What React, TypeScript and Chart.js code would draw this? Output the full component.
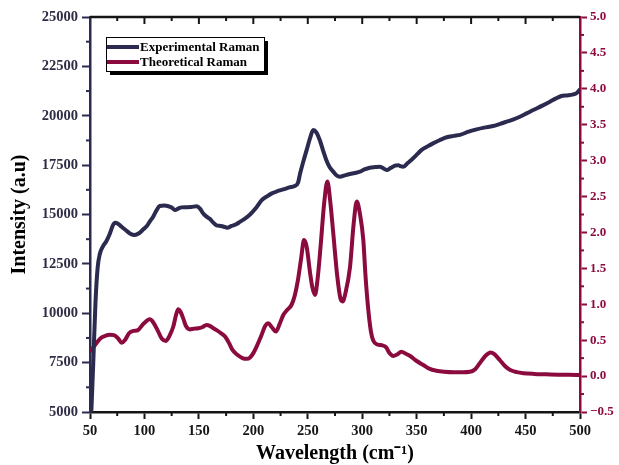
import React, { useEffect, useRef } from "react";
import { Chart, registerables } from "chart.js";
Chart.register(...registerables);

const expWavelength = [51, 53, 55, 57, 59, 62, 65, 68, 71, 73, 76, 79, 83, 87, 91, 95, 99, 102, 105, 108, 111, 114, 118, 122, 125, 128, 131, 134, 138, 143, 148, 151, 154, 157, 160, 163, 166, 170, 173, 176, 180, 184.7, 188, 192, 197, 202, 207.7, 212, 217, 222, 227.5, 233, 238, 241, 243, 246, 249, 252, 255, 258, 261, 264, 267, 270, 273.4, 276, 279.6, 284, 288.8, 293, 298, 302, 307, 312, 316, 319, 322.5, 326, 330, 333, 335, 337.7, 342, 346.8, 351, 354.6, 360, 365, 371, 377.5, 384, 389.8, 397, 405, 412, 420, 426, 432.6, 439, 444.8, 451, 457, 465, 472.4, 478, 483, 488, 493.8, 497, 500];
const expIntensity = [4700, 7500, 10500, 12300, 13000, 13400, 13650, 14000, 14450, 14580, 14520, 14380, 14200, 14030, 13960, 14050, 14250, 14400, 14650, 14890, 15200, 15430, 15450, 15420, 15350, 15230, 15300, 15360, 15370, 15380, 15420, 15300, 15050, 14890, 14780, 14600, 14460, 14420, 14380, 14330, 14420, 14520, 14640, 14780, 15000, 15300, 15730, 15900, 16070, 16180, 16270, 16370, 16440, 16600, 17090, 17700, 18270, 18850, 19280, 19150, 18770, 18250, 17760, 17400, 17170, 17000, 16910, 16980, 17050, 17100, 17170, 17280, 17370, 17400, 17420, 17350, 17250, 17350, 17480, 17500, 17450, 17420, 17620, 17850, 18080, 18270, 18450, 18600, 18760, 18910, 18980, 19030, 19180, 19310, 19400, 19480, 19580, 19700, 19820, 19950, 20120, 20290, 20500, 20710, 20880, 21000, 21030, 21080, 21150, 21340];

const theoWavelength = [50, 53, 56, 60, 64, 68, 72, 76, 79, 82, 86, 90, 94, 98, 102, 105, 108, 112, 116, 119.8, 123, 126.5, 129, 131, 133, 135.7, 138, 141.8, 145, 149.5, 153, 157, 160, 163, 166.3, 170, 174, 178, 181, 185, 190, 194, 197, 200, 203, 207, 211, 213.7, 217, 220.8, 224, 227.5, 231, 235, 238, 241, 244, 246.5, 249, 252, 254, 256.6, 259, 262, 265, 268, 270.5, 273.4, 277, 280, 282, 284.5, 288.8, 292, 295, 298, 301, 303, 305.6, 308, 310, 314, 318, 322, 325, 328.5, 332, 336, 340, 344, 350, 356, 362, 368, 375, 384, 392, 399, 404, 408, 413, 418, 421, 426.5, 431, 436, 442, 448, 458, 469, 480, 490, 500];
const theoIntensity = [0.34, 0.4, 0.46, 0.53, 0.56, 0.575, 0.57, 0.52, 0.465, 0.5, 0.6, 0.63, 0.64, 0.71, 0.77, 0.79, 0.75, 0.64, 0.52, 0.49, 0.56, 0.69, 0.85, 0.93, 0.9, 0.8, 0.7, 0.65, 0.66, 0.665, 0.68, 0.71, 0.7, 0.67, 0.64, 0.6, 0.55, 0.45, 0.36, 0.3, 0.25, 0.24, 0.26, 0.32, 0.41, 0.55, 0.7, 0.735, 0.68, 0.62, 0.72, 0.85, 0.92, 0.99, 1.12, 1.34, 1.65, 1.895, 1.8, 1.45, 1.25, 1.13, 1.35, 1.85, 2.4, 2.71, 2.45, 1.99, 1.4, 1.08, 1.04, 1.15, 1.52, 2.1, 2.43, 2.25, 1.895, 1.4, 0.92, 0.62, 0.5, 0.44, 0.43, 0.4, 0.32, 0.28, 0.3, 0.34, 0.31, 0.28, 0.21, 0.155, 0.1, 0.075, 0.06, 0.053, 0.053, 0.06, 0.1, 0.18, 0.28, 0.33, 0.31, 0.22, 0.14, 0.085, 0.055, 0.04, 0.03, 0.025, 0.02, 0.017, 0.015];

const seriesNames = ["Experimental Raman", "Theoretical Raman"];

const NAVY = "#2b2a4f";
const CRIMSON = "#8c0b3f";
const FONT = '"Liberation Serif", "Times New Roman", serif';

const decorPlugin = {
  id: "decor",
  afterDraw(chart: any) {
    const ctx = chart.ctx;
    const { left, right, top, bottom } = chart.chartArea;
    const x = chart.scales.x;
    const y = chart.scales.y;
    const y1 = chart.scales.y1;
    const seg = (x0: number, y0: number, x1: number, y1v: number, color: string) => {
      ctx.strokeStyle = color;
      ctx.beginPath();
      ctx.moveTo(x0, y0);
      ctx.lineTo(x1, y1v);
      ctx.stroke();
    };
    ctx.save();
    ctx.lineWidth = 2.5;
    seg(left, top, right, top, "#151515");
    ctx.lineWidth = 2;
    for (let v = 50; v <= 500; v += 25) {
      const px = x.getPixelForValue(v);
      const major = v % 50 === 0;
      if (!major) seg(px, bottom, px, bottom + 4, "#151515");
      if (v !== 50 && v !== 500) seg(px, top, px, top + (major ? 7 : 4), "#151515");
    }
    for (let v = 6250; v < 25000; v += 2500) {
      const py = y.getPixelForValue(v);
      seg(left, py, left - 4, py, NAVY);
    }
    for (let v = -0.25; v < 5; v += 0.5) {
      const py = y1.getPixelForValue(v);
      seg(right, py, right + 4, py, CRIMSON);
    }
    // legend
    const bx = 106, by = 37, bw = 158, bh = 34;
    ctx.fillStyle = "#000";
    ctx.fillRect(bx + 4, by + 4, bw, bh);
    ctx.fillStyle = "#fff";
    ctx.fillRect(bx, by, bw, bh);
    ctx.lineWidth = 1;
    ctx.strokeStyle = "#000";
    ctx.strokeRect(bx + 0.5, by + 0.5, bw, bh);
    const colors = [NAVY, CRIMSON];
    const rows = [by + 10, by + 25];
    ctx.lineWidth = 4;
    ctx.font = `bold 13px ${FONT}`;
    ctx.textBaseline = "middle";
    ctx.textAlign = "left";
    seriesNames.forEach((name, i) => {
      seg(bx + 1, rows[i], bx + 33, rows[i], colors[i]);
      ctx.fillStyle = "#000";
      ctx.fillText(name, bx + 34, rows[i] + 0.5);
    });
    ctx.restore();
  },
};

export default function App() {
  const ref = useRef<HTMLCanvasElement | null>(null);
  useEffect(() => {
    if (!ref.current) return;
    const chart = new Chart(ref.current, {
      type: "line",
      data: {
        datasets: [
          {
            label: seriesNames[0],
            data: expWavelength.map((w, i) => ({ x: w, y: expIntensity[i] })),
            borderColor: NAVY,
            borderWidth: 4,
            pointRadius: 0,
            cubicInterpolationMode: "monotone",
            yAxisID: "y",
          },
          {
            label: seriesNames[1],
            data: theoWavelength.map((w, i) => ({ x: w, y: theoIntensity[i] })),
            borderColor: CRIMSON,
            borderWidth: 4,
            pointRadius: 0,
            cubicInterpolationMode: "monotone",
            yAxisID: "y1",
          },
        ],
      },
      options: {
        responsive: false,
        animation: false,
        layout: { padding: { top: 17, left: 0, right: 0, bottom: 0 } },
        plugins: { legend: { display: false }, tooltip: { enabled: false } },
        scales: {
          x: {
            type: "linear",
            min: 50,
            max: 500,
            afterFit: (s: any) => { s.height = 53; },
            ticks: {
              stepSize: 50,
              color: "#151515",
              padding: 4,
              font: { family: FONT, size: 14.5, weight: "bold" },
            },
            grid: { drawOnChartArea: false, drawTicks: true, tickLength: 7, tickWidth: 2, tickColor: "#151515" },
            border: { display: true, color: "#151515", width: 2.5 },
            title: {
              display: true,
              text: "Wavelength (cm⁻¹)",
              color: "#000",
              padding: { top: 0, bottom: 1 },
              font: { family: FONT, size: 20, weight: "bold", lineHeight: 1 },
            },
          },
          y: {
            type: "linear",
            position: "left",
            min: 5000,
            max: 25000,
            afterFit: (s: any) => { s.width = 90; },
            ticks: {
              stepSize: 2500,
              color: "#2e2d45",
              padding: 4,
              callback: (v: any) => String(v),
              font: { family: FONT, size: 14.5, weight: "bold" },
            },
            grid: { drawOnChartArea: false, drawTicks: true, tickLength: 8, tickWidth: 2, tickColor: NAVY },
            border: { display: true, color: NAVY, width: 2.5 },
            title: {
              display: true,
              text: "Intensity (a.u)",
              color: "#000",
              padding: { top: 8, bottom: 0 },
              font: { family: FONT, size: 20, weight: "bold", lineHeight: 1.2 },
            },
          },
          y1: {
            type: "linear",
            position: "right",
            min: -0.5,
            max: 5.0,
            afterFit: (s: any) => { s.width = 39; },
            ticks: {
              stepSize: 0.5,
              color: CRIMSON,
              padding: 3,
              callback: (v: any) => (v < 0 ? "−" + Math.abs(v).toFixed(1) : Number(v).toFixed(1)),
              font: { family: FONT, size: 13, weight: "bold" },
            },
            grid: { drawOnChartArea: false, drawTicks: true, tickLength: 7, tickWidth: 2, tickColor: CRIMSON },
            border: { display: true, color: CRIMSON, width: 2.5 },
          },
        },
      },
      plugins: [decorPlugin],
    } as any);
    return () => chart.destroy();
  }, []);
  return (
    <div style={{ position: "absolute", left: 0, top: 0, width: 619, height: 465, background: "#fff" }}>
      <canvas ref={ref} width={619} height={465} style={{ display: "block" }} />
    </div>
  );
}
